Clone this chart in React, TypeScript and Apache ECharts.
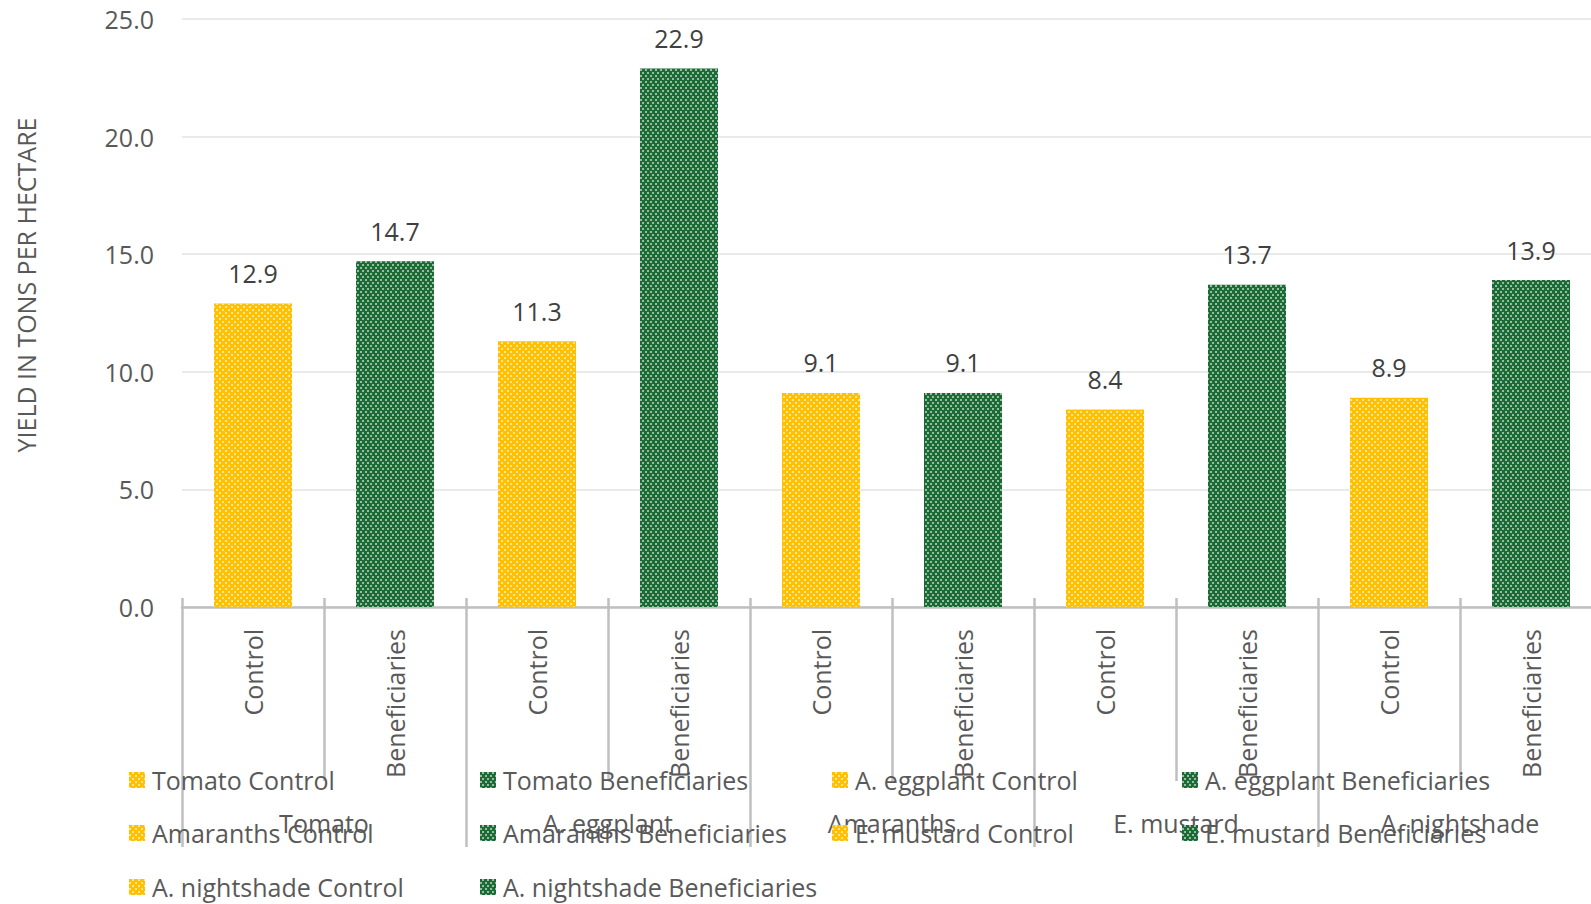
import React, { useEffect, useRef } from "react";
import * as echarts from "echarts";

const crops = ["Tomato", "A. eggplant", "Amaranths", "E. mustard", "A. nightshade"];
const groupNames = ["Control", "Beneficiaries"];
const controlValues = [12.9, 11.3, 9.1, 8.4, 8.9];
const beneficiaryValues = [14.7, 22.9, 9.1, 13.7, 13.9];
const yMin = 0;
const yMax = 25;
const yInterval = 5;
const yTitle = "YIELD IN TONS PER HECTARE";

const YELLOW = "#FFC000";
const GREEN = "#1B6B34";
const TEXT = "#595959";
const LINE = "#BFBFBF";
const FONT = "'Open Sans', 'Noto Sans', sans-serif";

const controlDecal = {
  symbol: "circle",
  symbolSize: 0.9,
  color: "rgba(255,255,255,0.8)",
  dashArrayX: [
    [1.6, 3.4],
    [0, 2.5, 1.6, 0.9],
  ],
  dashArrayY: [1.6, 0.9],
  rotation: 0,
};
const benefDecal = {
  symbol: "rect",
  symbolSize: 1,
  color: "rgba(255,255,255,0.55)",
  dashArrayX: [
    [1.2, 2.8],
    [0, 2, 1.2, 0.8],
  ],
  dashArrayY: [1.2, 0.8],
  rotation: 0,
};

export default function App() {
  const ref = useRef<HTMLDivElement>(null);
  useEffect(() => {
    document.body.style.margin = "0";
    if (!ref.current) return;
    const chart = echarts.init(ref.current, undefined, { renderer: "svg" });

    const categories: string[] = [];
    const seriesNames: string[] = [];
    const seriesValues: number[] = [];
    const seriesIsControl: boolean[] = [];
    crops.forEach((c, i) => {
      groupNames.forEach((g, j) => {
        categories.push(g);
        seriesNames.push(`${c} ${g}`);
        seriesValues.push(j === 0 ? controlValues[i] : beneficiaryValues[i]);
        seriesIsControl.push(j === 0);
      });
    });

    const series = seriesNames.map((name, k) => ({
      name,
      type: "bar",
      stack: "all",
      barWidth: 78,
      xAxisIndex: 0,
      data: categories.map((_, idx) => (idx === k ? seriesValues[k] : null)),
      itemStyle: {
        color: seriesIsControl[k] ? YELLOW : GREEN,
        decal: seriesIsControl[k] ? controlDecal : benefDecal,
      },
      label: {
        show: true,
        position: "top",
        distance: 18,
        fontSize: 25,
        fontFamily: FONT,
        color: "#404040",
        formatter: (p: any) => (p.value == null ? "" : Number(p.value).toFixed(1)),
      },
    }));

    // legend layout: 4 columns, row-major order
    const colX = [129, 480, 832, 1182];
    const rowY = [780, 833, 887];
    const legends = seriesNames.map((name, k) => ({
      data: [name],
      left: colX[k % 4],
      top: rowY[Math.floor(k / 4)] - 12.5,
      padding: 0,
      itemWidth: 16,
      itemHeight: 16,
      selectedMode: false,
      icon: "rect",
      textStyle: { fontSize: 25, color: TEXT, fontFamily: FONT, padding: [0, 0, 0, 2] },
    }));

    chart.setOption({
      animation: false,
      backgroundColor: "#ffffff",
      textStyle: { fontFamily: FONT },
      grid: {
        left: 182,
        top: 19,
        width: 1420,
        height: 588,
        containLabel: false,
        outerBoundsMode: "none",
      },
      legend: legends,
      graphic: [
        {
          type: "text",
          x: 26,
          y: 285,
          rotation: Math.PI / 2,
          style: {
            text: yTitle,
            fontSize: 25,
            fontFamily: FONT,
            fill: TEXT,
            textAlign: "center",
            textVerticalAlign: "middle",
          },
        },
      ],
      xAxis: [
        {
          type: "category",
          position: "bottom",
          data: categories,
          axisLine: { show: true, lineStyle: { color: LINE, width: 2.5 } },
          axisTick: { show: true, interval: 0, length: 174, lineStyle: { color: LINE, width: 2.5 } },
          axisLabel: {
            interval: 0,
            rotate: 90,
            margin: 22,
            fontSize: 25,
            color: TEXT,
            fontFamily: FONT,
          },
          splitLine: { show: false },
        },
        {
          type: "category",
          position: "bottom",
          data: categories,
          axisLine: { show: false },
          axisTick: { show: true, inside: true, interval: 0, length: 9, lineStyle: { color: LINE, width: 2.5 } },
          axisLabel: { show: false },
          splitLine: { show: false },
        },
        {
          type: "category",
          position: "bottom",
          offset: 174,
          data: crops,
          axisLine: { show: false },
          axisTick: { show: true, interval: 0, length: 66, lineStyle: { color: LINE, width: 2.5 } },
          axisLabel: { interval: 0, margin: 29, fontSize: 25, color: TEXT, fontFamily: FONT },
          splitLine: { show: false },
        },
      ],
      yAxis: {
        type: "value",
        min: yMin,
        max: yMax,
        interval: yInterval,
        axisLine: { show: false },
        axisTick: { show: false },
        axisLabel: {
          fontSize: 25,
          color: TEXT,
          fontFamily: FONT,
          margin: 28,
          formatter: (v: number) => v.toFixed(1),
        },
        splitLine: { show: true, lineStyle: { color: "#E3E3E3", width: 1.5 } },
      },
      series,
    });
    return () => chart.dispose();
  }, []);
  return <div ref={ref} style={{ width: 1591, height: 904 }} />;
}
